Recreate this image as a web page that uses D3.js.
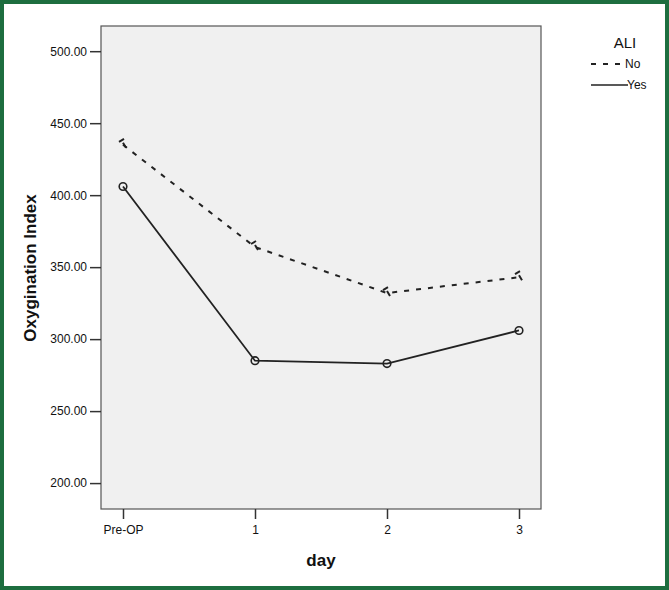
<!DOCTYPE html>
<html>
<head>
    <script src="https://d3js.org/d3.v7.min.js"></script>
    <style>
        body { margin: 0; background: #fff; font-family: Arial, "Liberation Sans", sans-serif; }
        #chart { width: 669px; height: 590px; }
    </style>
</head>
<body>
<div id="chart"></div>
<script>
    // data
    const days = ['Pre-OP', '1', '2', '3'];
    const aliNo = [435, 364, 332, 343];
    const aliYes = [406, 285, 283, 306];
    const yTicks = [200, 250, 300, 350, 400, 450, 500];

    const W = 669, H = 590;
    const plot = { left: 101, top: 26, right: 541, bottom: 509 };

    const svg = d3.select('#chart').append('svg')
        .attr('width', W).attr('height', H);

    // green frame
    svg.append('rect')
        .attr('x', 2).attr('y', 2)
        .attr('width', W - 4).attr('height', H - 4)
        .attr('fill', '#fff')
        .attr('stroke', '#1d6e3f')
        .attr('stroke-width', 4);

    const x = d3.scalePoint().domain(days)
        .range([123, 519]);
    const y = d3.scaleLinear().domain([182, 517.5])
        .range([plot.bottom, plot.top]);

    svg.append('rect')
        .attr('x', plot.left).attr('y', plot.top)
        .attr('width', plot.right - plot.left)
        .attr('height', plot.bottom - plot.top)
        .attr('fill', '#f0f0f0')
        .attr('stroke', '#555')
        .attr('stroke-width', 1.2);

    // axes
    const yAxis = svg.append('g')
        .attr('transform', `translate(${plot.left},0)`)
        .call(d3.axisLeft(y).tickValues(yTicks).tickSize(11).tickPadding(3)
            .tickFormat(d3.format('.2f')));
    yAxis.select('.domain').remove();
    yAxis.selectAll('line').attr('stroke', '#333').attr('stroke-width', 1.5);
    yAxis.selectAll('text').attr('font-size', 12).attr('fill', '#111')
        .attr('font-family', 'Arial, "Liberation Sans", sans-serif');

    const xAxis = svg.append('g')
        .attr('transform', `translate(0,${plot.bottom})`)
        .call(d3.axisBottom(x).tickSize(10).tickPadding(6));
    xAxis.select('.domain').remove();
    xAxis.selectAll('line').attr('stroke', '#333').attr('stroke-width', 1.5);
    xAxis.selectAll('text').attr('font-size', 12).attr('fill', '#111')
        .attr('font-family', 'Arial, "Liberation Sans", sans-serif');

    svg.append('text')
        .attr('x', 321).attr('y', 566)
        .attr('text-anchor', 'middle')
        .attr('font-size', 17).attr('font-weight', 'bold').attr('fill', '#111')
        .text('day');

    svg.append('text')
        .attr('transform', 'translate(36,268) rotate(-90)')
        .attr('text-anchor', 'middle')
        .attr('font-size', 17).attr('font-weight', 'bold').attr('fill', '#111')
        .text('Oxygination Index');

    const line = d3.line()
        .x((d, i) => x(days[i]))
        .y(d => y(d));

    // ALI = No : dashed
    svg.append('path')
        .datum(aliNo)
        .attr('d', line)
        .attr('fill', 'none')
        .attr('stroke', '#222')
        .attr('stroke-width', 2)
        .attr('stroke-dasharray', '5,7');

    svg.selectAll('.mNo')
        .data(aliNo)
        .enter().append('path')
        .attr('class', 'mNo')
        .attr('d', (d, i) => {
            const cx = x(days[i]), cy = y(d);
            return `M${cx - 4},${cy - 3}L${cx + 1},${cy - 6}M${cx},${cy - 2}L${cx + 3},${cy + 3}`;
        })
        .attr('fill', 'none')
        .attr('stroke', '#222')
        .attr('stroke-width', 2);

    // ALI = Yes : solid with circles
    svg.append('path')
        .datum(aliYes)
        .attr('d', line)
        .attr('fill', 'none')
        .attr('stroke', '#222')
        .attr('stroke-width', 1.8);

    svg.selectAll('.mYes')
        .data(aliYes)
        .enter().append('circle')
        .attr('class', 'mYes')
        .attr('cx', (d, i) => x(days[i]))
        .attr('cy', d => y(d))
        .attr('r', 3.8)
        .attr('fill', 'none')
        .attr('stroke', '#222')
        .attr('stroke-width', 1.6);

    // legend
    const lg = svg.append('g');
    lg.append('text').attr('x', 625).attr('y', 48)
        .attr('text-anchor', 'middle').attr('font-size', 15).attr('fill', '#111')
        .text('ALI');
    lg.append('line').attr('x1', 591).attr('x2', 625).attr('y1', 64).attr('y2', 64)
        .attr('stroke', '#222').attr('stroke-width', 1.8).attr('stroke-dasharray', '5,7');
    lg.append('text').attr('x', 625).attr('y', 68).attr('font-size', 12).attr('fill', '#111')
        .text('No');
    lg.append('line').attr('x1', 591).attr('x2', 628).attr('y1', 85).attr('y2', 85)
        .attr('stroke', '#222').attr('stroke-width', 1.6);
    lg.append('text').attr('x', 627).attr('y', 89).attr('font-size', 12).attr('fill', '#111')
        .text('Yes');
</script>
</body>
</html>
